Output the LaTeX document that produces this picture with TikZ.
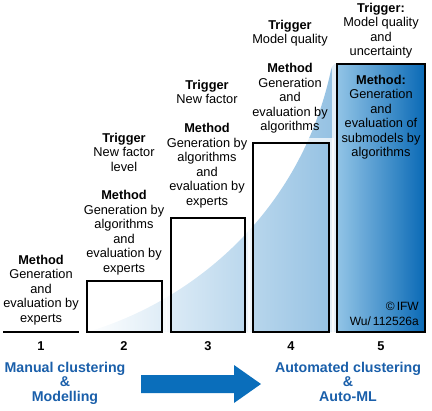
\documentclass[tikz,border=0pt]{standalone}
\usepackage{fontspec}
\setmainfont{Liberation Sans}
\definecolor{txtblue}{RGB}{26,95,170}
\definecolor{arrblue}{RGB}{10,110,187}
\definecolor{shadeR}{RGB}{146,192,226}
\definecolor{bfiveL}{RGB}{146,196,230}
\definecolor{bfiveM}{RGB}{105,170,220}
\definecolor{bfiveR}{RGB}{10,106,182}
\begin{document}
\begin{tikzpicture}[x=1bp,y=-1bp,
  lbl/.style={font=\fontsize{12.8bp}{14.5bp}\selectfont, align=center, inner sep=0pt, anchor=north},
  numlbl/.style={font=\fontsize{12.8bp}{14.5bp}\selectfont\bfseries, inner sep=0pt, anchor=base},
  bluelbl/.style={font=\fontsize{14.2bp}{14.5bp}\selectfont\bfseries, text=txtblue, align=center, inner sep=0pt, anchor=north},
  stepbox/.style={draw=black, line width=2bp},
  halo/.style={draw=white, opacity=0.75, line width=4bp}]
\useasboundingbox (0,0) rectangle (432,411);
% rising gradient area
\shade[left color=white, right color=shadeR]
  (87,332) .. controls (190,302) and (300,215) .. (331,70)
  .. controls (332,64) and (336,63) .. (340,63) -- (340,332) -- cycle;
% halos
\draw[halo] (84,278) rectangle (165,335);
\draw[halo] (168,215) rectangle (248,335);
\draw[halo] (250,140) rectangle (332,335);
\draw[halo] (334,61) rectangle (428,335);
% box 5 fill
\shade[left color=bfiveL, middle color=bfiveM, right color=bfiveR] (337,64) rectangle (425,332);
% boxes
\draw[black, line width=2.5bp] (3,332) -- (79,332);
\draw[stepbox] (87,281) rectangle (162,332);
\draw[stepbox] (171,218) rectangle (245,332);
\draw[stepbox] (253,143) rectangle (329,332);
\draw[stepbox] (337,64) rectangle (425,332);
% texts
\node[lbl] (t1) at (41,255) {\textbf{Method}\\Generation\\and\\evaluation by\\experts};
\node[lbl] (t2) at (124,133) {\textbf{Trigger}\\New factor\\level\\[14bp]\textbf{Method}\\Generation by\\algorithms\\and\\evaluation by\\experts};
\node[lbl] (t3) at (207,80) {\textbf{Trigger}\\New factor\\[14.5bp]\textbf{Method}\\Generation by\\algorithms\\and\\evaluation by\\experts};
\node[lbl] (t4) at (290,20) {\textbf{Trigger}\\Model quality\\[14.5bp]\textbf{Method}\\Generation\\and\\evaluation by\\algorithms};
\node[lbl] (t5a) at (381,3) {\textbf{Trigger:}\\Model quality\\and\\uncertainty};
\node[lbl] (t5b) at (381,75) {\textbf{Method:}\\Generation\\and\\evaluation of\\submodels by\\algorithms};
\node[font=\fontsize{12bp}{15bp}\selectfont, align=right, inner sep=0pt, anchor=north east] (cr) at (419,302) {©\,IFW\\Wu/\,112526a};
% numbers
\node[numlbl] (n1) at (41,350) {1};
\node[numlbl] (n2) at (124,350) {2};
\node[numlbl] (n3) at (208,350) {3};
\node[numlbl] (n4) at (291,350) {4};
\node[numlbl] (n5) at (381,350) {5};
% bottom labels
\node[bluelbl] (ml) at (65,362) {Manual clustering\\\&\\Modelling};
\node[bluelbl] (am) at (348,362) {Automated clustering\\\&\\Auto-ML};
% big arrow
\fill[arrblue] (141,375) -- (234,375) -- (234,365) -- (261,384) -- (234,403) -- (234,393) -- (141,393) -- cycle;
\end{tikzpicture}
\end{document}
